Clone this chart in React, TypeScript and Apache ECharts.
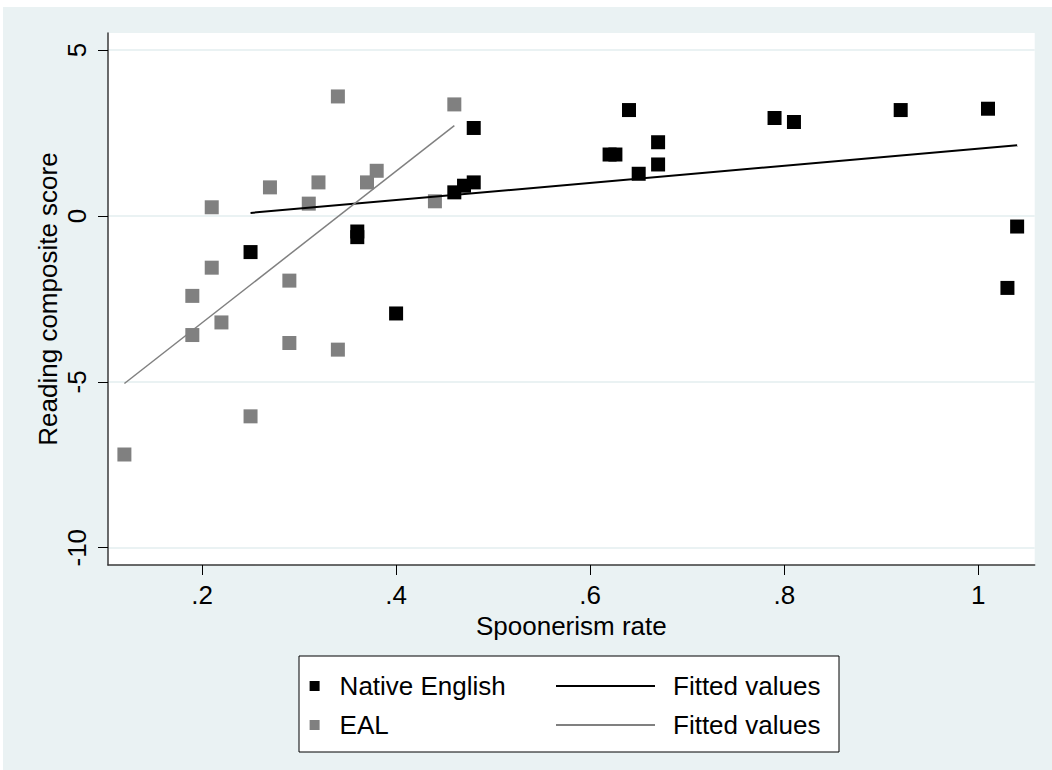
import React, { useEffect, useRef } from "react";
import * as echarts from "echarts";

// Native English group
const nativeX = [0.25, 0.36, 0.36, 0.4, 0.46, 0.47, 0.48, 0.48, 0.62, 0.626, 0.64, 0.65, 0.67, 0.67, 0.79, 0.81, 0.92, 1.01, 1.03, 1.04];
const nativeY = [-1.09, -0.47, -0.64, -2.94, 0.71, 0.91, 1.01, 2.65, 1.85, 1.85, 3.19, 1.27, 2.22, 1.55, 2.95, 2.83, 3.19, 3.23, -2.17, -0.32];

// EAL group
const ealX = [0.12, 0.19, 0.19, 0.21, 0.21, 0.22, 0.25, 0.27, 0.29, 0.29, 0.31, 0.32, 0.34, 0.34, 0.37, 0.38, 0.44, 0.46];
const ealY = [-7.19, -2.41, -3.59, 0.26, -1.56, -3.21, -6.04, 0.86, -1.95, -3.83, 0.37, 1.01, 3.6, -4.03, 1.01, 1.36, 0.44, 3.36];

// Fitted lines (endpoints)
const fitNativeX = [0.25, 1.04];
const fitNativeY = [0.09, 2.13];
const fitEalX = [0.12, 0.46];
const fitEalY = [-5.05, 2.72];

const xTicks = [0.2, 0.4, 0.6, 0.8, 1];
const yTicks = [-10, -5, 0, 5];

const FONT = "Liberation Sans, Arial, Helvetica, sans-serif";
const BG = "#eaf2f3";

const zip = (xs: number[], ys: number[]) => xs.map((x, i) => [x, ys[i]]);

export default function App() {
  const ref = useRef<HTMLDivElement>(null);
  useEffect(() => {
    document.body.style.margin = "0";
    if (!ref.current) return;
    const chart = echarts.init(ref.current, null, { renderer: "svg" });
    chart.setOption({
      animation: false,
      backgroundColor: "#ffffff",
      graphic: [
        { type: "rect", z: -10, shape: { x: 3, y: 7, width: 1049, height: 763 }, style: { fill: BG } },
        { type: "rect", z: 1, shape: { x: 299, y: 656, width: 540, height: 96 }, style: { fill: "#ffffff", stroke: "#000", lineWidth: 1 } },
      ],
      grid: {
        left: 108,
        top: 33,
        right: 17.3,
        bottom: 205,
        show: true,
        backgroundColor: "#ffffff",
        borderWidth: 0,
      },
      xAxis: {
        type: "value",
        min: 0.1031,
        max: 1.0581,
        name: "Spoonerism rate",
        nameLocation: "middle",
        nameGap: 48,
        nameTextStyle: { fontSize: 26, color: "#000", fontFamily: FONT },
        axisLine: { onZero: false, lineStyle: { color: "#3a3a3a", width: 1.5 } },
        axisTick: { show: true, length: 10, customValues: xTicks, lineStyle: { color: "#000", width: 1 } },
        axisLabel: {
          customValues: xTicks,
          margin: 17,
          fontSize: 26,
          color: "#000",
          fontFamily: FONT,
          formatter: (v: number) => (v === 1 ? "1" : String(v).replace(/^0/, "")),
        },
        splitLine: { show: false },
      },
      yAxis: {
        type: "value",
        min: -10.52,
        max: 5.512,
        name: "Reading composite score",
        nameLocation: "middle",
        nameRotate: 90,
        nameGap: 47,
        nameMoveOverlap: false,
        nameTextStyle: { fontSize: 26, color: "#000", fontFamily: FONT },
        axisLine: { show: true, onZero: false, lineStyle: { color: "#3a3a3a", width: 1.5 } },
        axisTick: { show: true, length: 10, customValues: yTicks, lineStyle: { color: "#000", width: 1 } },
        axisLabel: {
          customValues: yTicks,
          rotate: 90,
          margin: 18,
          fontSize: 26,
          color: "#000",
          fontFamily: FONT,
        },
        splitLine: { show: true, lineStyle: { color: BG, width: 2 } },
      },
      legend: [
        {
          left: 309.6,
          top: 673,
          orient: "vertical",
          padding: 0,
          itemGap: 13,
          itemWidth: 10,
          itemHeight: 10,
          icon: "rect",
          z: 10,
          data: ["Native English", "EAL"],
          textStyle: { fontSize: 26, color: "#000", fontFamily: FONT, padding: [0, 0, 0, 15] },
          selectedMode: false,
        },
        {
          left: 556,
          top: 673,
          orient: "vertical",
          padding: 0,
          itemGap: 13,
          itemWidth: 99,
          itemHeight: 2,
          icon: "rect",
          z: 10,
          data: ["Fitted values (Native English)", "Fitted values (EAL)"],
          formatter: () => "Fitted values",
          textStyle: { fontSize: 26, color: "#000", fontFamily: FONT, padding: [0, 0, 0, 13] },
          selectedMode: false,
        },
      ],
      series: [
        {
          name: "Native English",
          type: "scatter",
          symbol: "rect",
          symbolSize: 14,
          itemStyle: { color: "#000000", opacity: 1 },
          data: zip(nativeX, nativeY),
          z: 2,
        },
        {
          name: "EAL",
          type: "scatter",
          symbol: "rect",
          symbolSize: 14,
          itemStyle: { color: "#808080", opacity: 1 },
          data: zip(ealX, ealY),
          z: 3,
        },
        {
          name: "Fitted values (Native English)",
          type: "line",
          symbol: "none",
          lineStyle: { color: "#000000", width: 2 },
          itemStyle: { color: "#000000" },
          data: zip(fitNativeX, fitNativeY),
          z: 4,
        },
        {
          name: "Fitted values (EAL)",
          type: "line",
          symbol: "none",
          lineStyle: { color: "#808080", width: 1.5 },
          itemStyle: { color: "#808080" },
          data: zip(fitEalX, fitEalY),
          z: 5,
        },
      ],
    });
    return () => chart.dispose();
  }, []);
  return <div ref={ref} style={{ width: 1052, height: 770 }} />;
}
